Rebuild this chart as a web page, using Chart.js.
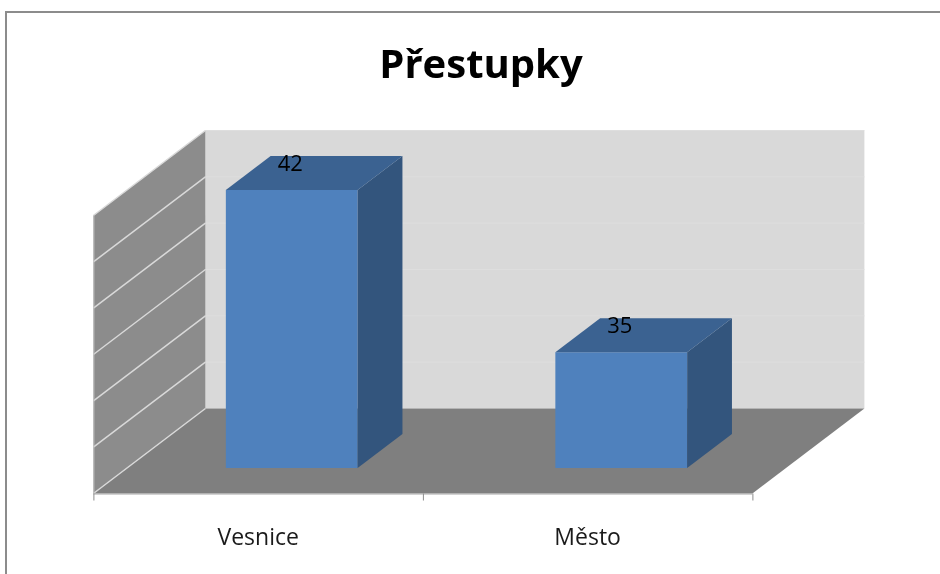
<!DOCTYPE html>
<html>
<head>
<meta charset="utf-8">
<script src="https://cdn.jsdelivr.net/npm/chart.js@4"></script>
<style>
    html, body { margin: 0; padding: 0; background: #fff; }
</style>
</head>
<body>
<canvas id="chart" width="940" height="574"></canvas>
<script>
// chart data
const chartTitle = 'Přestupky';
const categories = ['Vesnice', 'Město'];
const offences = [42, 35];
const valueTicks = [30, 32, 34, 36, 38, 40, 42];

// fake 3D: how far the floor goes back, and where the bars sit in that depth
const depthX = 112;
const depthY = 85;
const barFront = 0.3;
const barBack = 0.7;

// point at depth d (0 = front edge of floor, 1 = back wall) from a point on the bar front plane
function at(x, y, d) {
    return [x + (d - barFront) * depthX, y - (d - barFront) * depthY];
}

function poly(ctx, pts, color) {
    ctx.beginPath();
    ctx.moveTo(pts[0][0], pts[0][1]);
    for (let i = 1; i < pts.length; i++) ctx.lineTo(pts[i][0], pts[i][1]);
    ctx.closePath();
    ctx.fillStyle = color;
    ctx.fill();
}

function line(ctx, a, b, color, width) {
    ctx.beginPath();
    ctx.moveTo(a[0], a[1]);
    ctx.lineTo(b[0], b[1]);
    ctx.strokeStyle = color;
    ctx.lineWidth = width || 1;
    ctx.stroke();
}

const box3d = {
    id: 'box3d',
    beforeDraw(chart) {
        const ctx = chart.ctx;
        ctx.save();
        ctx.fillStyle = '#8c8c8c';
        ctx.fillRect(5, 11, 2, chart.height - 11);
        ctx.fillRect(5, 11, chart.width - 5, 2);

        ctx.fillStyle = '#000';
        ctx.font = 'bold 40px "Open Sans"';
        ctx.textAlign = 'center';
        ctx.textBaseline = 'alphabetic';
        ctx.fillText(chartTitle, 481, 78);
        ctx.restore();
    },
    beforeDatasetsDraw(chart) {
        const ctx = chart.ctx;
        const { left, right, top, bottom } = chart.chartArea;
        const yScale = chart.scales.y;
        const xScale = chart.scales.x;
        ctx.save();

        // walls and floor
        poly(ctx, [at(left, top, 1), at(right, top, 1), at(right, bottom, 1), at(left, bottom, 1)], '#d9d9d9');
        poly(ctx, [at(left, bottom, 0), at(left, top, 0), at(left, top, 1), at(left, bottom, 1)], '#8c8c8c');
        poly(ctx, [at(left, bottom, 0), at(right, bottom, 0), at(right, bottom, 1), at(left, bottom, 1)], '#7f7f7f');

        // gridlines
        valueTicks.forEach(v => {
            const y = yScale.getPixelForValue(v);
            line(ctx, at(left, y, 0), at(left, y, 1), '#d9d9d9', 1.5);
            if (v !== valueTicks[0]) {
                line(ctx, at(left, y, 1), at(right, y, 1), '#dedede');
            }
        });

        // axis lines
        line(ctx, at(left + 0.5, top, 0), at(left + 0.5, bottom, 0), '#bfbfbf');
        line(ctx, at(left, bottom + 0.5, 0), at(right, bottom + 0.5, 0), '#a6a6a6');

        // category ticks
        const n = categories.length;
        for (let i = 0; i <= n; i++) {
            const p = at(left + i * (right - left) / n, bottom, 0);
            line(ctx, [p[0] + 0.5, p[1]], [p[0] + 0.5, p[1] + 7], '#8c8c8c');
        }

        // category labels
        ctx.fillStyle = '#1a1a1a';
        ctx.font = '23px "Open Sans"';
        ctx.textAlign = 'center';
        ctx.textBaseline = 'alphabetic';
        categories.forEach((c, i) => {
            const p = at(xScale.getPixelForValue(i), bottom, 0);
            ctx.fillText(c, p[0], p[1] + 51);
        });
        ctx.restore();
    },
    afterDatasetsDraw(chart) {
        const ctx = chart.ctx;
        const meta = chart.getDatasetMeta(0);
        const floorY = chart.scales.y.getPixelForValue(valueTicks[0]);
        const d = barBack - barFront;
        ctx.save();
        meta.data.forEach((bar, i) => {
            const l = bar.x - bar.width / 2;
            const r = bar.x + bar.width / 2;
            const base = Math.min(bar.base, floorY);
            const dx = d * depthX, dy = d * depthY;
            // side
            poly(ctx, [[r, base], [r, bar.y], [r + dx, bar.y - dy], [r + dx, base - dy]], '#33557d');
            // top
            poly(ctx, [[l, bar.y], [r, bar.y], [r + dx, bar.y - dy], [l + dx, bar.y - dy]], '#3b6291');

            ctx.fillStyle = '#000';
            ctx.font = '22px "Open Sans"';
            ctx.textAlign = 'center';
            ctx.textBaseline = 'alphabetic';
            ctx.fillText(String(offences[i]), bar.x - 1.5, bar.y - 19);
        });
        ctx.restore();
    }
};

new Chart(document.getElementById('chart').getContext('2d'), {
    type: 'bar',
    data: {
        labels: categories,
        datasets: [{
            label: chartTitle,
            data: offences,
            backgroundColor: '#4f81bd',
            borderWidth: 0,
            barPercentage: 0.4,
            categoryPercentage: 1.0
        }]
    },
    options: {
        responsive: false,
        animation: false,
        layout: {
            padding: { left: 127, right: 154, top: 190, bottom: 106 }
        },
        scales: {
            x: { display: false },
            y: {
                display: false,
                min: valueTicks[0],
                max: valueTicks[valueTicks.length - 1],
                ticks: { stepSize: 2 }
            }
        },
        plugins: {
            legend: { display: false },
            title: { display: false },
            tooltip: { enabled: false }
        }
    },
    plugins: [box3d]
});
</script>
</body>
</html>
